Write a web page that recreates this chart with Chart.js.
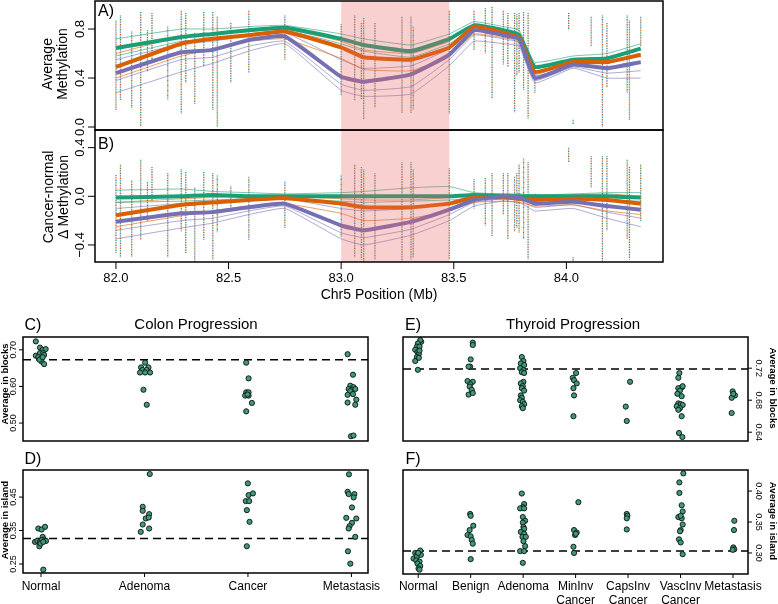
<!DOCTYPE html>
<html>
<head>
<meta charset="utf-8">
<script src="https://cdn.jsdelivr.net/npm/chart.js@4.4.1/dist/chart.umd.min.js"></script>
<style>
  body { margin: 0; background: #fff; }
  #wrap { position: relative; width: 778px; height: 604px; overflow: hidden; background: #fff;
          font-family: 'Liberation Sans', Arial, sans-serif; color: #000; }
  canvas { position: absolute; }
  .t { position: absolute; white-space: nowrap; transform: translate(-50%, -50%); line-height: 1; }
  .up { transform: translate(-50%, -50%) rotate(-90deg); }
  .down { transform: translate(-50%, -50%) rotate(90deg); }
  .small { font-size: 9.5px; font-weight: bold; }
</style>
</head>
<body>
<div id="wrap">
  <canvas id="cB" width="680" height="176" style="left:0;top:128px"></canvas>
  <canvas id="cA" width="680" height="142" style="left:0;top:0"></canvas>
  <canvas id="cC" width="380" height="120" style="left:0;top:330px"></canvas>
  <canvas id="cD" width="380" height="144" style="left:0;top:460px"></canvas>
  <canvas id="cE" width="398" height="120" style="left:380px;top:330px"></canvas>
  <canvas id="cF" width="398" height="144" style="left:380px;top:460px"></canvas>

  <div class="t" style="left:106px;top:11px;font-size:16px">A)</div>
  <div class="t" style="left:106px;top:144px;font-size:16px">B)</div>
  <div class="t up" style="left:47px;top:64px;font-size:14px">Average</div>
  <div class="t up" style="left:62px;top:64px;font-size:14px">Methylation</div>
  <div class="t up" style="left:48px;top:197px;font-size:14px">Cancer-normal</div>
  <div class="t up" style="left:63px;top:197px;font-size:14px">Δ Methylation</div>
  <div class="t" style="left:379px;top:294px;font-size:14px">Chr5 Position (Mb)</div>

  <div class="t" style="left:33px;top:325px;font-size:16px">C)</div>
  <div class="t" style="left:196px;top:323px;font-size:15px">Colon Progression</div>
  <div class="t" style="left:33px;top:459px;font-size:16px">D)</div>
  <div class="t" style="left:413px;top:325px;font-size:16px">E)</div>
  <div class="t" style="left:573px;top:323px;font-size:15px">Thyroid Progression</div>
  <div class="t" style="left:413px;top:459px;font-size:16px">F)</div>
  <div class="t up small" style="left:5px;top:384px">Average in blocks</div>
  <div class="t up small" style="left:5px;top:520px">Average in island</div>
  <div class="t down small" style="left:773px;top:388px">Average in blocks</div>
  <div class="t down small" style="left:773px;top:521px">Average in island</div>
</div>
<script>
// ---- top panels: chr5 region ----
const meanPos = [82.0, 82.29, 82.43, 82.59, 82.75, 83.0, 83.1, 83.31, 83.48, 83.59, 83.72, 83.79, 83.86, 84.03, 84.18, 84.33];

const aNormalMean  = [0.645, 0.735, 0.76, 0.79, 0.81, 0.72, 0.67, 0.62, 0.72, 0.83, 0.79, 0.75, 0.49, 0.55, 0.56, 0.64];
const aAdenomaMean = [0.49, 0.68, 0.72, 0.75, 0.78, 0.65, 0.57, 0.55, 0.65, 0.82, 0.77, 0.73, 0.45, 0.53, 0.53, 0.59];
const aCancerMean  = [0.44, 0.61, 0.63, 0.71, 0.74, 0.41, 0.37, 0.43, 0.59, 0.79, 0.75, 0.72, 0.40, 0.51, 0.48, 0.53];

const aNormalLines = [
  [0.72, 0.80, 0.80, 0.82, 0.83, 0.76, 0.72, 0.67, 0.76, 0.86, 0.82, 0.79, 0.53, 0.58, 0.60, 0.68],
  [0.58, 0.70, 0.72, 0.76, 0.79, 0.68, 0.62, 0.57, 0.68, 0.80, 0.76, 0.72, 0.46, 0.52, 0.53, 0.60]
];
const aAdenomaLines = [
  [0.60, 0.74, 0.76, 0.78, 0.80, 0.70, 0.63, 0.60, 0.70, 0.84, 0.79, 0.75, 0.48, 0.56, 0.57, 0.64],
  [0.40, 0.58, 0.64, 0.70, 0.72, 0.56, 0.47, 0.46, 0.58, 0.76, 0.73, 0.70, 0.42, 0.50, 0.48, 0.54]
];
const aCancerLines = [
  [0.55, 0.68, 0.70, 0.75, 0.77, 0.55, 0.48, 0.50, 0.64, 0.82, 0.78, 0.74, 0.43, 0.53, 0.52, 0.58],
  [0.38, 0.55, 0.57, 0.66, 0.70, 0.35, 0.30, 0.33, 0.55, 0.75, 0.72, 0.69, 0.38, 0.49, 0.44, 0.46],
  [0.28, 0.45, 0.52, 0.62, 0.68, 0.30, 0.25, 0.27, 0.50, 0.70, 0.68, 0.66, 0.36, 0.48, 0.40, 0.40]
];

const bNormalMean  = [-0.01, 0.0, 0.01, 0.0, 0.0, 0.0, 0.0, 0.0, 0.0, 0.01, 0.0, 0.0, 0.0, 0.0, 0.0, -0.01];
const bAdenomaMean = [-0.155, -0.07, -0.05, -0.03, -0.015, -0.06, -0.09, -0.09, -0.06, -0.01, -0.01, -0.02, -0.03, -0.02, -0.03, -0.06];
const bCancerMean  = [-0.21, -0.14, -0.13, -0.09, -0.06, -0.24, -0.28, -0.21, -0.11, -0.03, 0.0, -0.01, -0.06, -0.045, -0.08, -0.11];

const bNormalLines = [
  [0.05, 0.06, 0.04, 0.03, 0.02, 0.03, 0.04, 0.07, 0.08, 0.03, 0.02, 0.02, 0.01, 0.02, 0.03, 0.03],
  [-0.05, -0.04, -0.03, -0.02, -0.02, -0.04, -0.05, -0.04, -0.03, -0.02, -0.02, -0.02, -0.02, -0.02, -0.03, -0.04]
];
const bAdenomaLines = [
  [-0.05, -0.02, -0.01, 0.0, 0.0, -0.02, -0.03, -0.03, -0.01, 0.02, 0.01, 0.0, -0.01, 0.01, 0.02, 0.0],
  [-0.25, -0.16, -0.12, -0.08, -0.06, -0.14, -0.20, -0.18, -0.12, -0.05, -0.04, -0.05, -0.08, -0.07, -0.12, -0.15]
];
const bCancerLines = [
  [-0.10, -0.06, -0.05, -0.03, -0.02, -0.10, -0.12, -0.10, -0.05, 0.01, 0.02, 0.01, -0.02, -0.01, -0.03, -0.05],
  [-0.28, -0.20, -0.18, -0.12, -0.08, -0.30, -0.34, -0.27, -0.15, -0.05, -0.02, -0.03, -0.09, -0.07, -0.13, -0.18],
  [-0.35, -0.26, -0.22, -0.15, -0.10, -0.35, -0.40, -0.32, -0.20, -0.08, -0.04, -0.05, -0.12, -0.10, -0.18, -0.25]
];

// probe columns (individual CpG values spread)
const probePos = [82.00, 82.02, 82.07, 82.11, 82.14, 82.16, 82.23, 82.29, 82.31, 82.35,
  82.39, 82.43, 82.45, 82.51, 82.59, 82.75, 83.00, 83.06, 83.09, 83.10,
  83.15, 83.27, 83.31, 83.32, 83.48, 83.59, 83.64, 83.67, 83.72, 83.74,
  83.77, 83.78, 83.79, 83.81, 83.83, 83.86, 84.01, 84.03, 84.11, 84.16,
  84.18, 84.27, 84.28, 84.33];
const stripHighA = [0.87, 0.91, 0.78, 0.94, 0.79, 0.93, 0.82, 0.95, 0.93, 0.77,
  0.94, 0.94, 0.90, 0.85, 0.95, 0.91, 0.84, 0.91, 0.85, 0.89,
  0.85, 0.90, 0.90, 0.82, 0.95, 0.95, 0.97, 0.98, 0.95, 0.93,
  0.93, 0.92, 0.93, 0.94, 0.93, 0.52, 0.93, 0.06, 0.90, 0.91,
  0.85, 0.91, 0.87, 0.90];
const stripLowA = [0.14, 0.22, 0.16, 0.00, 0.45, 0.55, 0.22, 0.11, 0.36, 0.19,
  0.49, 0.14, 0.00, 0.36, 0.44, 0.55, 0.26, 0.22, 0.22, 0.06,
  0.16, 0.11, 0.11, 0.14, 0.11, 0.63, 0.60, 0.23, 0.51, 0.49,
  0.12, 0.42, 0.44, 0.30, 0.07, 0.28, 0.79, 0.02, 0.66, 0.00,
  0.32, 0.28, 0.06, 0.66];
const stripHighB = [0.175, 0.26, 0.13, 0.30, 0.12, 0.24, 0.19, 0.22, 0.20, 0.07,
  0.20, 0.19, 0.17, 0.08, 0.16, 0.12, 0.17, 0.26, 0.24, 0.22,
  0.19, 0.28, 0.28, 0.22, 0.23, 0.14, 0.15, 0.19, 0.19, 0.19,
  0.16, 0.19, 0.26, 0.31, 0.28, 0.02, 0.40, -0.50, 0.33, 0.33,
  0.33, 0.30, 0.24, 0.26];
const stripLowB = [-0.47, -0.50, -0.50, -0.36, -0.20, -0.04, -0.50, -0.29, -0.47, -0.54,
  -0.36, -0.52, -0.30, -0.11, -0.36, -0.26, -0.33, -0.50, -0.52, -0.54,
  -0.52, -0.54, -0.52, -0.50, -0.52, -0.10, -0.24, -0.33, -0.15, -0.35,
  -0.29, -0.26, -0.30, -0.35, -0.52, -0.08, 0.28, -0.54, 0.07, -0.54,
  -0.28, -0.35, -0.52, -0.20];

const shadeRegion = [83.0, 83.48];
const posTicks = [82.0, 82.5, 83.0, 83.5, 84.0];
const posLabels = ['82.0', '82.5', '83.0', '83.5', '84.0'];
const aTicks = [0.0, 0.4, 0.8];
const aLabels = ['0.0', '0.4', '0.8'];
const bTicks = [-0.4, 0.0, 0.4];
const bLabels = ['\u22120.4', '0.0', '0.4'];

// ---- bottom panels: strip charts ----
const colonGroups = [['Normal'], ['Adenoma'], ['Cancer'], ['Metastasis']];
const thyroidGroups = [['Normal'], ['Benign'], ['Adenoma'], ['MinInv', 'Cancer'], ['CapsInv', 'Cancer'], ['VascInv', 'Cancer'], ['Metastasis']];

const cBlocksX = [-0.05, -0.05, -0.01, 0.016, 0.045, -0.01, 0.022, -0.026, 0.006, 0.03, 0.006, 0.03, -0.015, 0.016,
  1.006, 0.967, 1.038, 0.98, 1.02, 0.957, 1.006, 1.054, 0.99, 1.022,
  1.983, 2.006, 1.983, 2.006, 1.973, 2.006, 1.996, 2.038, 1.983,
  2.963, 3.015, 2.989, 3.02, 2.973, 3.005, 3.037, 2.989, 2.963, 3.015, 3.047, 2.963, 3.037, 2.995, 3.02];
const cBlocksY = [0.723, 0.684, 0.706, 0.70, 0.702, 0.691, 0.691, 0.680, 0.677, 0.686, 0.668, 0.661, 0.673, 0.680,
  0.665, 0.652, 0.652, 0.645, 0.645, 0.638, 0.638, 0.638, 0.591, 0.550,
  0.665, 0.622, 0.584, 0.584, 0.575, 0.575, 0.578, 0.555, 0.532,
  0.688, 0.632, 0.602, 0.598, 0.593, 0.591, 0.593, 0.587, 0.577, 0.579, 0.564, 0.556, 0.550, 0.464, 0.466];
const cBlocksCut = 0.673;

const dIslandX = [-0.026, 0.006, 0.039, -0.058, -0.035, -0.01, 0.016, 0.029, 0.006, 0.048, -0.016, -0.003, 0.022, 0.022,
  1.051, 0.983, 0.983, 1.045, 1.012, 1.041, 0.983, 1.045, 0.964,
  1.999, 2.006, 2.048, 1.979, 2.012, 1.989, 2.015, 1.989,
  2.976, 2.963, 2.973, 3.028, 3.021, 3.005, 2.95, 3.047, 3.005, 2.982, 2.973, 3.037, 2.966, 2.989];
const dIslandY = [0.356, 0.353, 0.361, 0.316, 0.319, 0.316, 0.331, 0.323, 0.321, 0.319, 0.303, 0.311, 0.316, 0.233,
  0.519, 0.421, 0.409, 0.399, 0.386, 0.389, 0.368, 0.356, 0.346,
  0.491, 0.456, 0.461, 0.438, 0.438, 0.411, 0.376, 0.303,
  0.518, 0.466, 0.459, 0.459, 0.449, 0.419, 0.388, 0.386, 0.373, 0.363, 0.356, 0.331, 0.288, 0.251];
const dIslandCut = 0.326;

const eBlocksX = [0.057, 0.038, -0.006, -0.025, 0.025, -0.057, -0.013, 0.013, 0.025, -0.025, -0.057, 0.013, -0.006,
  1.04, 1.04, 1.0, 0.99, 0.96, 0.94, 1.04, 0.99, 0.98, 1.02, 0.96, 1.04,
  1.975, 2.006, 1.956, 2.019, 1.943, 2.006, 1.975, 2.019, 2.006, 1.956, 1.994, 1.975, 2.019, 1.956, 1.975, 1.943, 1.994, 2.019, 1.975, 1.994,
  3.009, 2.946, 2.97, 3.021, 2.959, 2.97, 2.959,
  4.038, 3.956, 3.975,
  4.978, 4.958, 5.022, 4.958, 5.041, 4.99, 4.94, 5.022, 4.958, 5.003, 4.927, 5.041, 4.99, 4.958, 5.022, 4.971, 5.035,
  5.994, 6.038, 5.975, 6.006, 5.975];
const eBlocksY = [0.753, 0.755, 0.751, 0.747, 0.747, 0.743, 0.740, 0.738, 0.742, 0.734, 0.729, 0.733, 0.718,
  0.752, 0.749, 0.731, 0.722, 0.722, 0.704, 0.703, 0.700, 0.697, 0.693, 0.687, 0.689,
  0.734, 0.729, 0.726, 0.724, 0.720, 0.7175, 0.715, 0.714, 0.703, 0.701, 0.6975, 0.695, 0.692, 0.686, 0.683, 0.680, 0.678, 0.675, 0.6725, 0.670,
  0.714, 0.708, 0.705, 0.701, 0.695, 0.686, 0.660,
  0.703, 0.672, 0.654,
  0.714, 0.708, 0.696, 0.695, 0.6975, 0.692, 0.688, 0.685, 0.676, 0.675, 0.6725, 0.674, 0.670, 0.668, 0.660, 0.639, 0.634,
  0.691, 0.686, 0.683, 0.688, 0.664];
const eBlocksCut = 0.719;

const fIslandX = [-0.057, 0.038, -0.013, -0.089, -0.025, 0.051, -0.038, 0.025, -0.013, 0.038, 0.006, 0.025, 0.0,
  0.99, 1.0, 1.05, 0.98, 0.94, 1.0, 1.02, 1.04, 1.0,
  1.975, 2.019, 1.994, 1.943, 2.019, 1.994, 2.038, 1.994, 2.006, 2.019, 1.956, 2.019, 1.987, 2.051, 2.006, 2.038, 1.943, 2.019, 1.994,
  3.053, 2.97, 3.021, 2.99, 3.004, 2.959, 2.97,
  3.975, 3.987, 3.975, 3.975,
  5.054, 4.978, 4.978, 5.022, 5.041, 4.958, 5.022, 5.003, 5.041, 5.003, 4.99, 4.971, 5.003, 5.041,
  6.025, 6.019, 6.006, 6.025, 5.994];
const fIslandY = [0.300, 0.304, 0.299, 0.291, 0.294, 0.297, 0.288, 0.286, 0.283, 0.279, 0.275, 0.273, 0.300,
  0.363, 0.360, 0.344, 0.337, 0.329, 0.327, 0.321, 0.315, 0.290,
  0.396, 0.379, 0.374, 0.372, 0.372, 0.358, 0.352, 0.349, 0.342, 0.339, 0.334, 0.331, 0.326, 0.326, 0.319, 0.311, 0.303, 0.303, 0.284,
  0.382, 0.337, 0.333, 0.329, 0.331, 0.310, 0.300,
  0.363, 0.360, 0.356, 0.338,
  0.4285, 0.414, 0.397, 0.377, 0.367, 0.358, 0.356, 0.360, 0.346, 0.337, 0.335, 0.322, 0.317, 0.298,
  0.352, 0.337, 0.309, 0.306, 0.305];
const fIslandCut = 0.303;

const cTicks = [0.50, 0.60, 0.70], cLabels = ['0.50', '0.60', '0.70'];
const dTicks = [0.25, 0.35, 0.45], dLabels = ['0.25', '0.35', '0.45'];
const eTicks = [0.64, 0.68, 0.72], eLabels = ['0.64', '0.68', '0.72'];
const fTicks = [0.30, 0.35, 0.40], fLabels = ['0.30', '0.35', '0.40'];

const GREEN = '#1b9e77', ORANGE = '#d95f02', PURPLE = '#7570b3';

// box, R-style ticks, shading and cut line
const rAxes = {
  id: 'rAxes',
  beforeDatasetsDraw(chart, args, o) {
    if (o.hline == null) return;
    const { ctx, chartArea: a } = chart;
    const y = chart.scales.y.getPixelForValue(o.hline);
    ctx.save();
    ctx.strokeStyle = '#000';
    ctx.lineWidth = 1.5;
    ctx.setLineDash([8, 5]);
    ctx.beginPath();
    ctx.moveTo(a.left, y);
    ctx.lineTo(a.right, y);
    ctx.stroke();
    ctx.restore();
  },
  afterDatasetsDraw(chart, args, o) {
    if (!o.shade) return;
    const { ctx, chartArea: a } = chart;
    const x0 = chart.scales.x.getPixelForValue(o.shade[0]);
    const x1 = chart.scales.x.getPixelForValue(o.shade[1]);
    ctx.save();
    ctx.fillStyle = 'rgba(232,100,100,0.3)';
    ctx.fillRect(x0, a.top, x1 - x0, a.bottom - a.top);
    ctx.restore();
  },
  afterDraw(chart, args, o) {
    const { ctx, chartArea: a, scales } = chart;
    ctx.save();
    ctx.strokeStyle = '#000';
    ctx.fillStyle = '#000';
    ctx.lineWidth = 1.5;
    ctx.strokeRect(a.left, a.top, a.right - a.left, a.bottom - a.top);
    ctx.lineWidth = 1;
    ctx.textAlign = 'center';
    ctx.textBaseline = 'middle';
    if (o.y) {
      const right = o.y.side === 'right';
      const x0 = right ? a.right : a.left;
      const dir = right ? 1 : -1;
      ctx.font = o.y.font;
      o.y.ticks.forEach((v, i) => {
        const py = scales.y.getPixelForValue(v);
        ctx.beginPath();
        ctx.moveTo(x0, py);
        ctx.lineTo(x0 + dir * o.y.len, py);
        ctx.stroke();
        ctx.save();
        ctx.translate(x0 + dir * o.y.off, py);
        ctx.rotate(right ? Math.PI / 2 : -Math.PI / 2);
        ctx.fillText(o.y.labels[i], 0, 0);
        ctx.restore();
      });
    }
    if (o.x) {
      ctx.font = o.x.font;
      o.x.ticks.forEach((v, i) => {
        const px = scales.x.getPixelForValue(v);
        ctx.beginPath();
        ctx.moveTo(px, a.bottom);
        ctx.lineTo(px, a.bottom + o.x.len);
        ctx.stroke();
        const lines = [].concat(o.x.labels[i]);
        lines.forEach((s, k) => ctx.fillText(s, px, a.bottom + o.x.off + k * o.x.lh));
      });
    }
    ctx.restore();
  }
};
Chart.register(rAxes);

function baseOptions(xr, yr, pad, axes) {
  return {
    responsive: false,
    animation: false,
    events: [],
    layout: { padding: pad },
    plugins: { legend: { display: false }, tooltip: { enabled: false }, title: { display: false }, rAxes: axes },
    scales: {
      x: { type: 'linear', display: false, min: xr[0], max: xr[1] },
      y: { type: 'linear', display: false, min: yr[0], max: yr[1] }
    }
  };
}

function curve(vals, color, width, order) {
  return {
    data: meanPos.map((x, i) => ({ x, y: vals[i] })),
    borderColor: color, borderWidth: width, pointRadius: 0,
    tension: 0.12, borderJoinStyle: 'round', fill: false, order
  };
}

function strips(hi, lo) {
  const pts = [];
  probePos.forEach((x, i) => { pts.push({ x, y: hi[i] }, { x, y: lo[i] }, { x, y: null }); });
  return [GREEN, ORANGE, PURPLE].map((c, k) => ({
    data: pts, borderColor: c, borderWidth: 1.3, pointRadius: 0, spanGaps: false,
    borderDash: [1, 4], borderDashOffset: k * 1.6, order: 20
  }));
}

function regionSets(nMean, aMean, cMean, nLines, aLines, cLines, hi, lo) {
  const sets = strips(hi, lo);
  nLines.forEach(l => sets.push(curve(l, 'rgba(27,158,119,0.75)', 0.8, 10)));
  aLines.forEach(l => sets.push(curve(l, 'rgba(217,95,2,0.75)', 0.8, 10)));
  cLines.forEach(l => sets.push(curve(l, 'rgba(117,112,179,0.75)', 0.8, 10)));
  sets.push(curve(nMean, GREEN, 4, 2));
  sets.push(curve(aMean, ORANGE, 4, 1));
  sets.push(curve(cMean, PURPLE, 4, 0));
  return sets;
}

const posRange = [81.907, 84.429];

new Chart(document.getElementById('cA'), {
  type: 'line',
  data: { datasets: regionSets(aNormalMean, aAdenomaMean, aCancerMean, aNormalLines, aAdenomaLines, aCancerLines, stripHighA, stripLowA) },
  options: baseOptions(posRange, [-0.0245, 1.029], { left: 95, right: 17, top: 1, bottom: 12 }, {
    shade: shadeRegion,
    y: { ticks: aTicks, labels: aLabels, font: '13px "Liberation Sans", Arial', len: 7, off: 15 }
  })
});

new Chart(document.getElementById('cB'), {
  type: 'line',
  data: { datasets: regionSets(bNormalMean, bAdenomaMean, bCancerMean, bNormalLines, bAdenomaLines, bCancerLines, stripHighB, stripLowB) },
  options: baseOptions(posRange, [-0.54, 0.545], { left: 95, right: 17, top: 2, bottom: 42 }, {
    shade: shadeRegion,
    y: { ticks: bTicks, labels: bLabels, font: '13px "Liberation Sans", Arial', len: 7, off: 15 },
    x: { ticks: posTicks, labels: posLabels, font: '13px "Liberation Sans", Arial', len: 7, off: 16, lh: 14 }
  })
});

function stripChart(id, xs, ys, xr, yr, pad, axes) {
  new Chart(document.getElementById(id), {
    type: 'scatter',
    data: {
      datasets: [{
        data: xs.map((x, i) => ({ x, y: ys[i] })),
        pointRadius: 2.6, pointBackgroundColor: '#3d9a7a',
        pointBorderColor: '#111', pointBorderWidth: 0.9
      }]
    },
    options: baseOptions(xr, yr, pad, axes)
  });
}

const smallFont = '9px "Liberation Sans", Arial';
const catFont = '12px "Liberation Sans", Arial';

stripChart('cC', cBlocksX, cBlocksY, [-0.174, 3.16], [0.451, 0.735], { left: 23, right: 12, top: 7, bottom: 9 }, {
  hline: cBlocksCut,
  y: { ticks: cTicks, labels: cLabels, font: smallFont, len: 4, off: 9 }
});
stripChart('cD', dIslandX, dIslandY, [-0.174, 3.16], [0.223, 0.531], { left: 23, right: 12, top: 10, bottom: 31 }, {
  hline: dIslandCut,
  y: { ticks: dTicks, labels: dLabels, font: smallFont, len: 4, off: 9 },
  x: { ticks: [0, 1, 2, 3], labels: colonGroups, font: catFont, len: 4, off: 14, lh: 14 }
});
stripChart('cE', eBlocksX, eBlocksY, [-0.29, 6.286], [0.629, 0.759], { left: 23, right: 30, top: 7, bottom: 9 }, {
  hline: eBlocksCut,
  y: { side: 'right', ticks: eTicks, labels: eLabels, font: smallFont, len: 4, off: 10 }
});
stripChart('cF', fIslandX, fIslandY, [-0.29, 6.286], [0.266, 0.434], { left: 23, right: 30, top: 10, bottom: 30 }, {
  hline: fIslandCut,
  y: { side: 'right', ticks: fTicks, labels: fLabels, font: smallFont, len: 4, off: 10 },
  x: { ticks: [0, 1, 2, 3, 4, 5, 6], labels: thyroidGroups, font: catFont, len: 4, off: 13, lh: 14 }
});
</script>
</body>
</html>
